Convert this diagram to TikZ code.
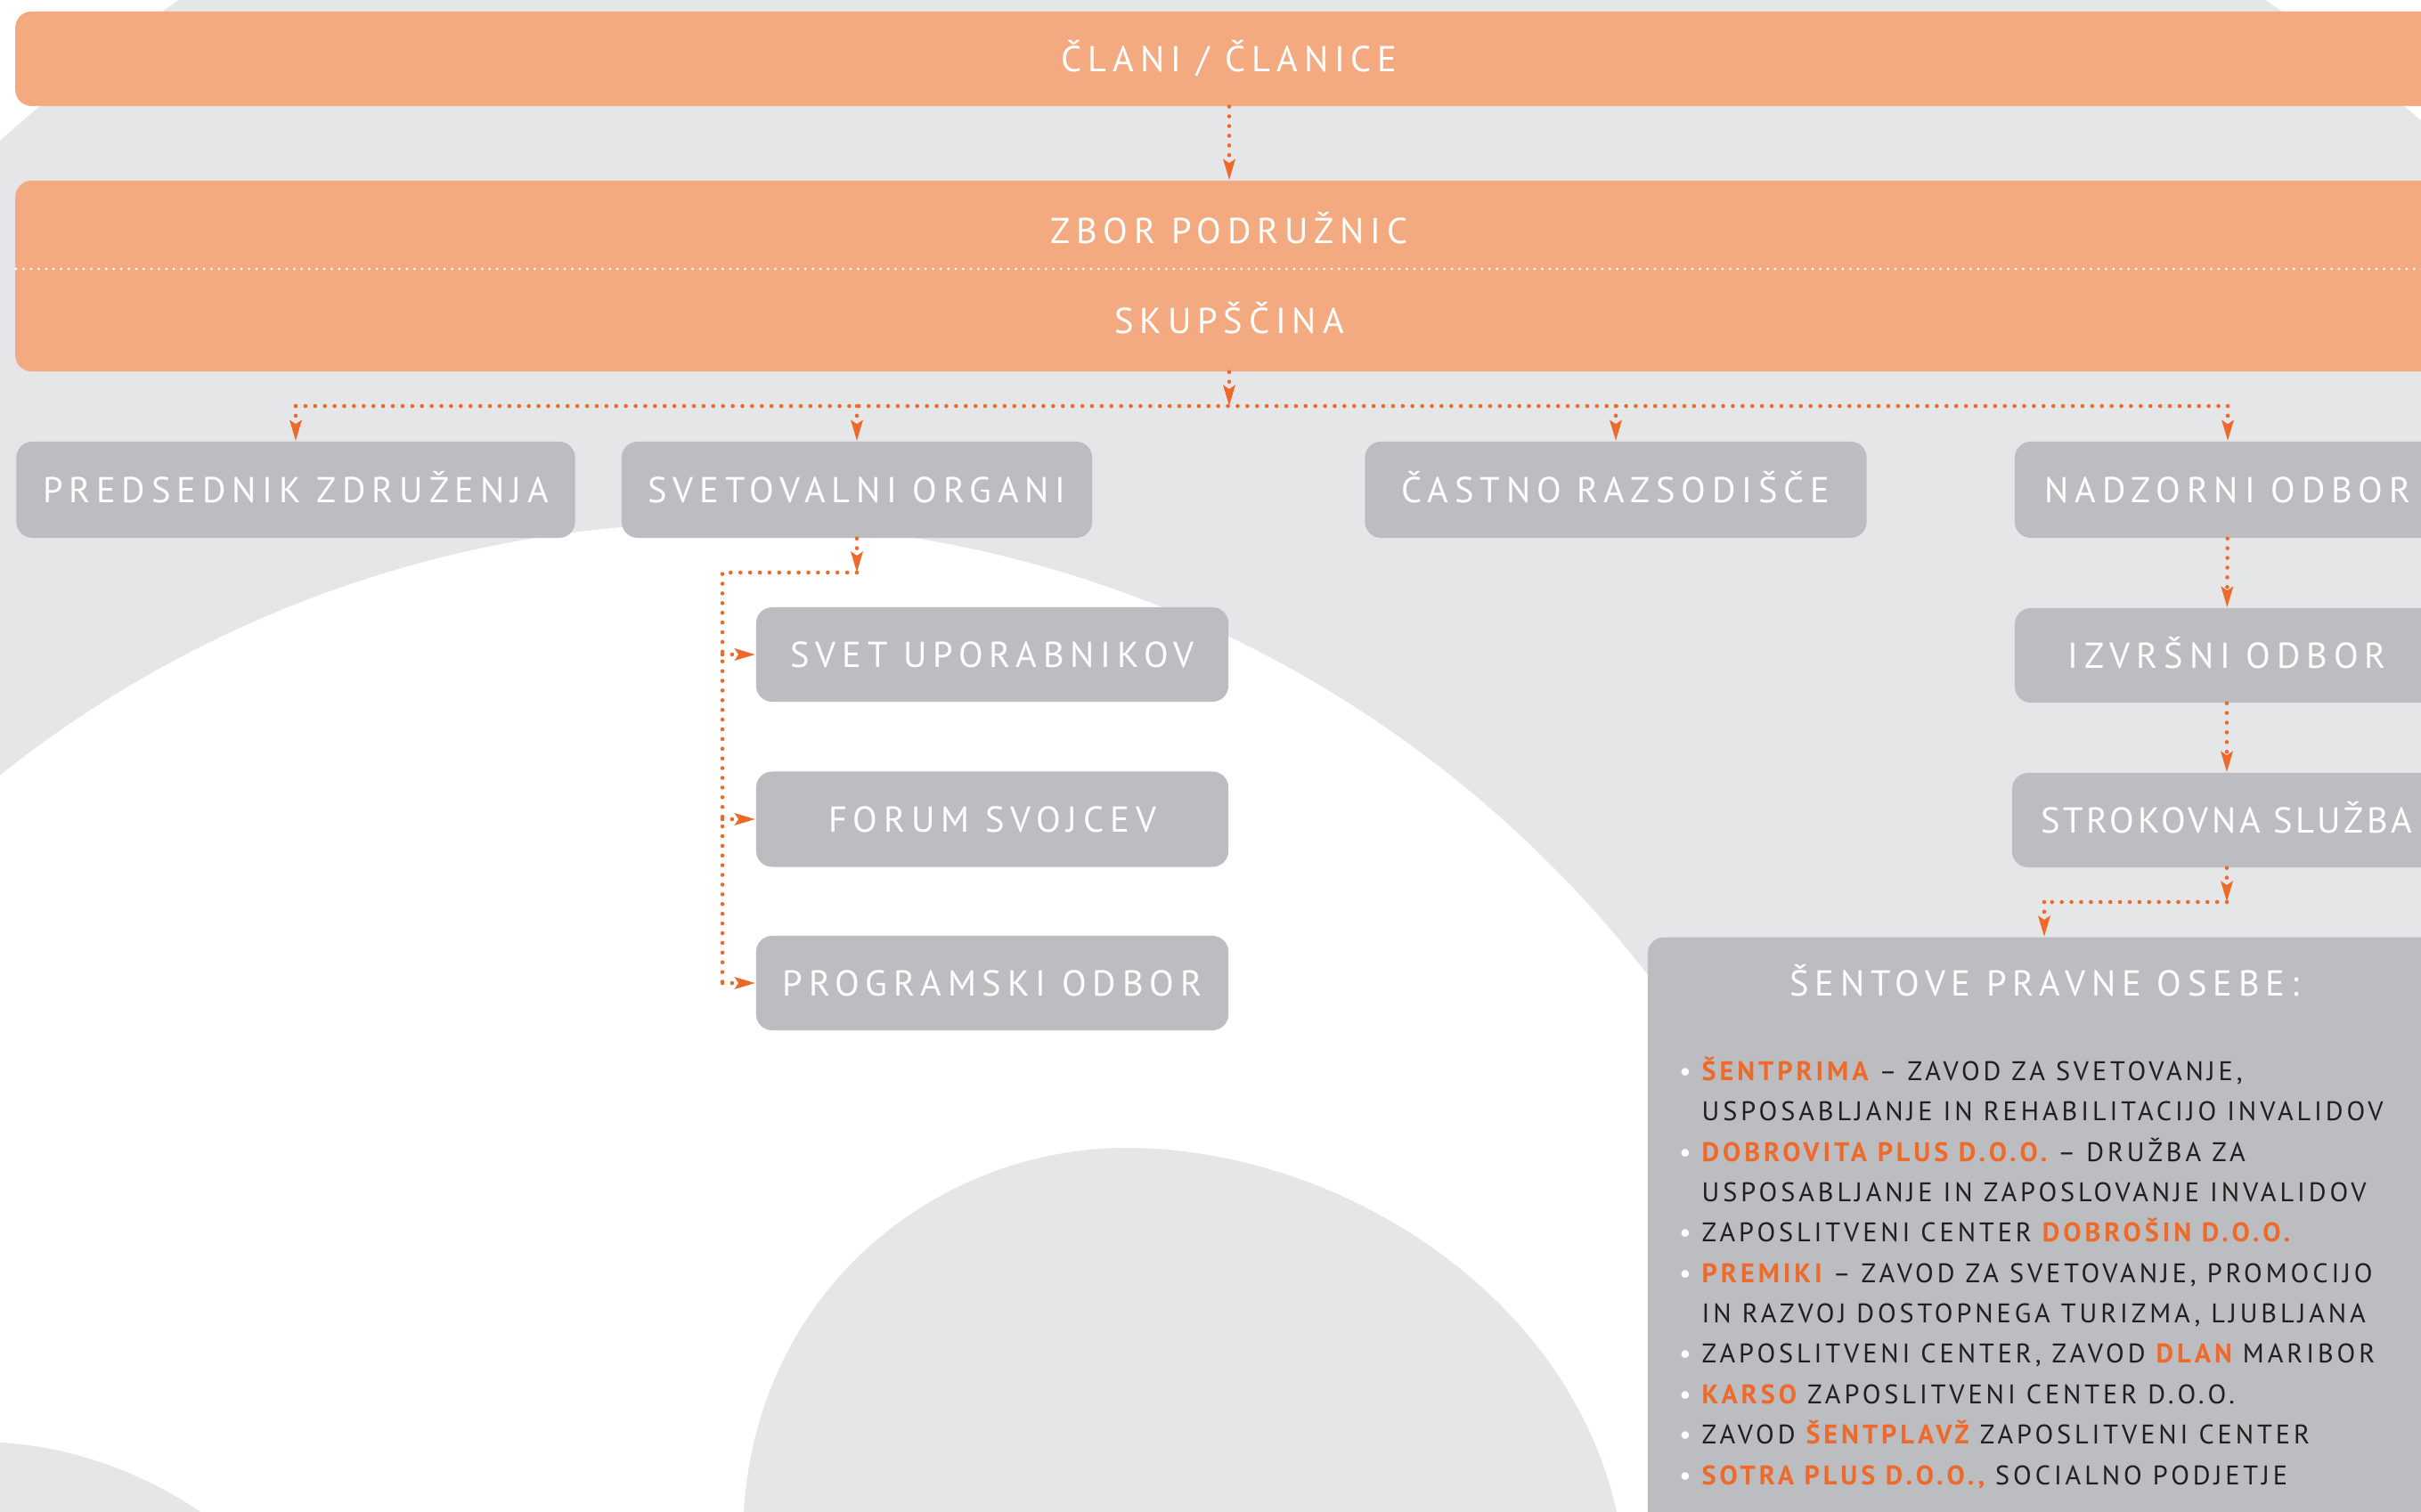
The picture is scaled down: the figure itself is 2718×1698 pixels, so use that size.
\documentclass[tikz,border=0pt]{standalone}
\usepackage{fontspec}
\setmainfont{PT Sans}
\newfontfamily\boxfont[LetterSpace=17]{PT Sans}
\newfontfamily\boxfonttight[LetterSpace=9]{PT Sans}
\newfontfamily\listfont[LetterSpace=13]{PT Sans}
\usetikzlibrary{arrows.meta}

\definecolor{bggray}{HTML}{E5E6E8}
\definecolor{boxgray}{HTML}{BCBDC0}
\definecolor{peach}{HTML}{F4AA80}
\definecolor{sorange}{HTML}{EE6A2B}
\definecolor{ink}{HTML}{231F20}

\newcommand{\hl}[1]{{\bfseries\color{sorange}#1}}
\newcommand{\itm}{\llap{{\color{white}\textbullet}\hspace{0.12cm}}}

\tikzset{
	orgbox/.style={fill=boxgray, rounded corners=0.18cm, inner sep=0pt, text=white,
		font=\boxfont\fontsize{11.5}{13}\selectfont, text height=8pt, text depth=0pt},
	topbox/.style={orgbox, fill=peach},
	boxtext/.style={inner sep=0pt, text=white, font=\boxfont\fontsize{11.5}{13}\selectfont,
		text height=8pt, text depth=0pt},
	link/.style={draw=sorange, line width=1.3pt, dash pattern=on 0pt off 3.1pt, line cap=round},
	linkarr/.style={link, -{Stealth[length=2.3mm,width=1.3mm,inset=0.4mm]}},
}

\begin{document}
\begin{tikzpicture}[x=0.01cm, y=-0.01cm]
	\useasboundingbox (0,0) rectangle (2718,1698);
	\clip (0,0) rectangle (2718,1698);
	% background
	\fill[white] (0,0) rectangle (2718,1698);
	\fill[bggray] (1372,1696) circle (2061);
	\fill[white] (814,1897) circle (1310);
	\fill[bggray] (835,1698) .. controls (850,1450) and (1050,1289) .. (1266,1289)
		.. controls (1500,1290) and (1760,1450) .. (1815,1698) -- cycle;
	\fill[bggray] (0,1620) .. controls (90,1625) and (170,1660) .. (225,1698) -- (0,1698) -- cycle;

	% top
	\node[topbox, minimum width=27.24cm, minimum height=1.06cm] (clani) at (1380,66) {ČLANI / ČLANICE};
	\node[topbox, minimum width=27.24cm, minimum height=2.14cm] (zbor) at (1380,310) {};
	\draw[white, line width=0.85pt, dash pattern=on 0pt off 2.4pt, line cap=round] (18,302) -- (2742,302);
	\node[boxtext] (zbortxt) at (1380,259) {ZBOR PODRUŽNIC};
	\node[boxtext] (skup) at (1380,360) {SKUPŠČINA};

	% second row
	\node[orgbox, minimum width=6.27cm, minimum height=1.08cm] (pred) at (332,550) {PREDSEDNIK ZDRUŽENJA};
	\node[orgbox, minimum width=5.28cm, minimum height=1.08cm] (svet) at (962,550) {SVETOVALNI ORGANI};
	\node[orgbox, minimum width=5.63cm, minimum height=1.08cm] (castno) at (1814,550) {ČASTNO RAZSODIŠČE};
	\node[orgbox, minimum width=4.78cm, minimum height=1.08cm] (nadz) at (2501,550) {NADZORNI ODBOR};

	% svetovalni organi
	\node[orgbox, minimum width=5.30cm, minimum height=1.06cm] (svup) at (1114,735) {SVET UPORABNIKOV};
	\node[orgbox, minimum width=5.30cm, minimum height=1.07cm] (forum) at (1114,920) {FORUM SVOJCEV};
	\node[orgbox, minimum width=5.30cm, minimum height=1.06cm] (prog) at (1114,1104) {PROGRAMSKI ODBOR};

	% right column
	\node[orgbox, minimum width=4.76cm, minimum height=1.06cm] (izvr) at (2500,736) {IZVRŠNI ODBOR};
	\node[orgbox, minimum width=4.82cm, minimum height=1.06cm,
		font=\boxfonttight\fontsize{11.5}{13}\selectfont] (strok) at (2500,921) {STROKOVNA SLUŽBA};
	\node[orgbox, minimum width=8.90cm, minimum height=7.10cm, anchor=north] (sent) at (2295,1052) {};
	\node[boxtext] (senttit) at (2295,1104) {ŠENTOVE PRAVNE OSEBE:};
	\node[anchor=base west, inner sep=0pt, align=left, text=ink,
		font=\listfont\fontsize{8.6}{12.9}\selectfont] (list) at (1910,1667) {%
		\itm\hl{ŠENTPRIMA} – ZAVOD ZA SVETOVANJE,\\
		USPOSABLJANJE IN REHABILITACIJO INVALIDOV\\
		\itm\hl{DOBROVITA PLUS D.O.O.} – DRUŽBA ZA\\
		USPOSABLJANJE IN ZAPOSLOVANJE INVALIDOV\\
		\itm ZAPOSLITVENI CENTER \hl{DOBROŠIN D.O.O.}\\
		\itm\hl{PREMIKI} – ZAVOD ZA SVETOVANJE, PROMOCIJO\\
		IN RAZVOJ DOSTOPNEGA TURIZMA, LJUBLJANA\\
		\itm ZAPOSLITVENI CENTER, ZAVOD \hl{DLAN} MARIBOR\\
		\itm\hl{KARSO} ZAPOSLITVENI CENTER D.O.O.\\
		\itm ZAVOD \hl{ŠENTPLAVŽ} ZAPOSLITVENI CENTER\\
		\itm\hl{SOTRA PLUS D.O.O.,} SOCIALNO PODJETJE};

	% connectors
	\draw[linkarr] (clani) -- (zbor);
	\coordinate (split) at (1380,456);
	\draw[linkarr] (zbor.south) -- (split);
	\draw[link] (pred.north |- split) -- (nadz.north |- split);
	\foreach \n in {pred,svet,castno,nadz}
		\draw[linkarr] (\n.north |- split) -- (\n.north);

	\coordinate (svsplit) at (962,643);
	\coordinate (svleft) at (811,643);
	\draw[linkarr] (svet.south) -- (svsplit);
	\draw[link] (svsplit) -- (svleft) -- (svleft |- prog);
	\foreach \n in {svup,forum,prog}
		\draw[linkarr] (svleft |- \n) -- (\n.west);

	\draw[linkarr] (nadz) -- (izvr);
	\draw[linkarr] (izvr) -- (strok);
	\coordinate (stsplit) at (2500,1013);
	\draw[linkarr] (strok.south) -- (stsplit);
	\draw[link] (stsplit) -- (sent.north |- stsplit);
	\draw[linkarr] (sent.north |- stsplit) -- (sent.north);
\end{tikzpicture}
\end{document}
